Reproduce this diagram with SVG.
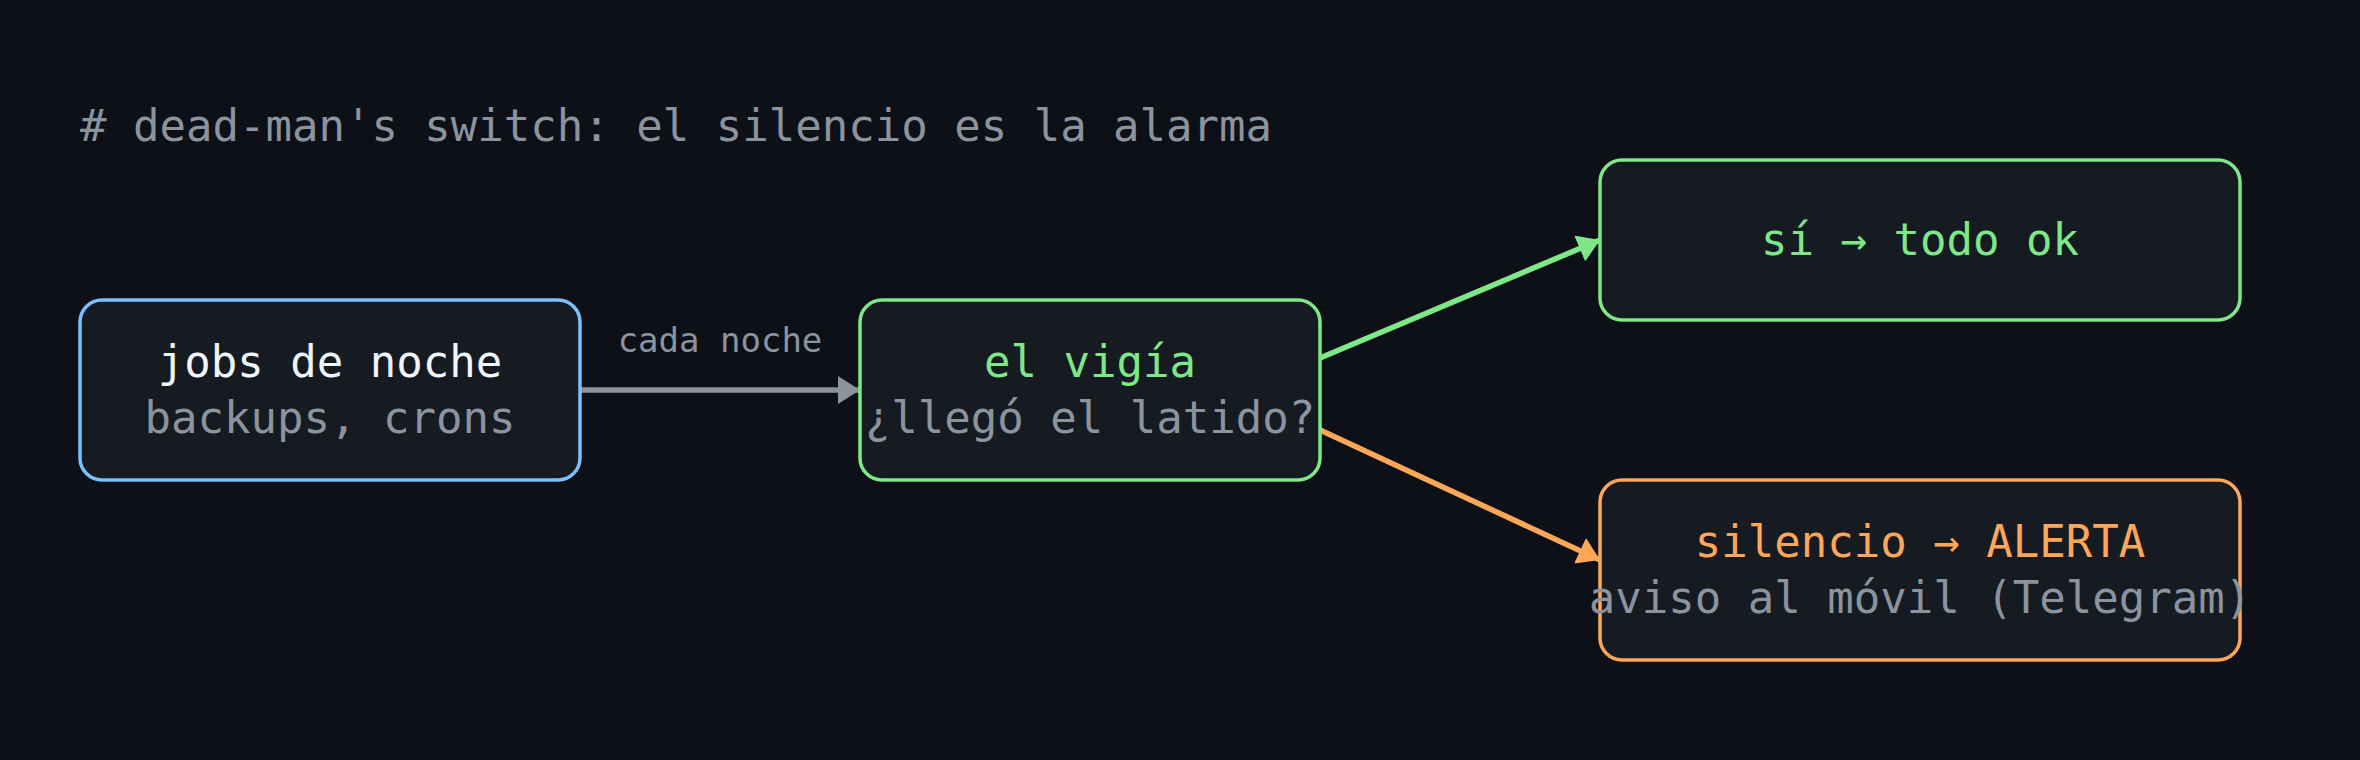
<svg xmlns="http://www.w3.org/2000/svg" width="2360" height="760" viewBox="0 0 2360 760">
  <style>
    text { font-family: "DejaVu Sans Mono", "Liberation Mono", monospace; }
    .t { font-size: 44px; text-anchor: middle; }
    .title { font-size: 44px; fill: #8b949e; }
    .lbl { font-size: 34px; fill: #8b949e; text-anchor: middle; }
    .box { fill: #161b22; stroke-width: 3.5; }
    .w { fill: #f0f6fc; }
    .g { fill: #8b949e; }
    .gr { fill: #7ee787; }
    .or { fill: #ffa657; }
    .edge { fill: none; stroke-width: 5.5; }
  </style>
  <defs>
    <marker id="ah-gray" markerUnits="userSpaceOnUse" markerWidth="24" markerHeight="28" refX="22" refY="14" orient="auto">
      <path d="M0,0 L22,14 L0,28 Z" fill="#8b949e"/>
    </marker>
    <marker id="ah-green" markerUnits="userSpaceOnUse" markerWidth="24" markerHeight="28" refX="22" refY="14" orient="auto">
      <path d="M0,0 L22,14 L0,28 Z" fill="#7ee787"/>
    </marker>
    <marker id="ah-orange" markerUnits="userSpaceOnUse" markerWidth="24" markerHeight="28" refX="22" refY="14" orient="auto">
      <path d="M0,0 L22,14 L0,28 Z" fill="#ffa657"/>
    </marker>
  </defs>
  <rect width="2360" height="760" fill="#0d1017"/>
  <text class="title" x="80" y="141"># dead-man's switch: el silencio es la alarma</text>

  <g id="connectors">
    <line class="edge" x1="580" y1="390" x2="860" y2="390" stroke="#8b949e" marker-end="url(#ah-gray)"/>
    <text class="lbl" x="720" y="352">cada noche</text>
    <line class="edge" x1="1320" y1="358" x2="1600" y2="240" stroke="#7ee787" marker-end="url(#ah-green)"/>
    <line class="edge" x1="1320" y1="430" x2="1600" y2="560" stroke="#ffa657" marker-end="url(#ah-orange)"/>
  </g>

  <g id="jobs">
    <rect class="box" x="80" y="300" width="500" height="180" rx="22" stroke="#79c0ff"/>
    <text class="t w" x="330" y="377">jobs de noche</text>
    <text class="t g" x="330" y="433">backups, crons</text>
  </g>

  <g id="vigia">
    <rect class="box" x="860" y="300" width="460" height="180" rx="22" stroke="#7ee787"/>
    <text class="t gr" x="1090" y="377">el vigía</text>
    <text class="t g" x="1090" y="433">¿llegó el latido?</text>
  </g>

  <g id="ok">
    <rect class="box" x="1600" y="160" width="640" height="160" rx="22" stroke="#7ee787"/>
    <text class="t gr" x="1920" y="255">sí → todo ok</text>
  </g>

  <g id="alerta">
    <rect class="box" x="1600" y="480" width="640" height="180" rx="22" stroke="#ffa657"/>
    <text class="t or" x="1920" y="557">silencio → ALERTA</text>
    <text class="t g" x="1920" y="613">aviso al móvil (Telegram)</text>
  </g>
</svg>
